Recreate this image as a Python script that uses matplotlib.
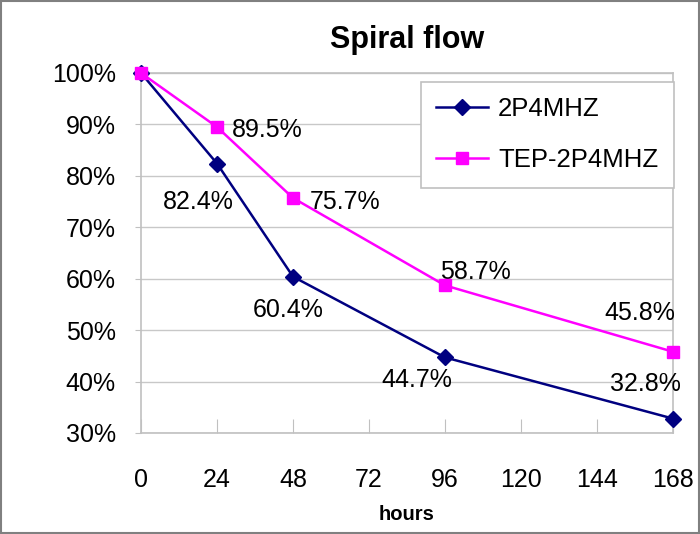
import matplotlib
matplotlib.use("Agg")
import matplotlib.pyplot as plt
from matplotlib.patches import Rectangle
from matplotlib.ticker import FuncFormatter

hours = [0, 24, 48, 96, 168]
series_a = [1.000, 0.824, 0.604, 0.447, 0.328]
series_b = [1.000, 0.895, 0.757, 0.587, 0.458]
name_a = "2P4MHZ"
name_b = "TEP-2P4MHZ"
labels_a = ["", "82.4%", "60.4%", "44.7%", "32.8%"]
labels_b = ["", "89.5%", "75.7%", "58.7%", "45.8%"]
xticks = [0, 24, 48, 72, 96, 120, 144, 168]
yticks = [0.3, 0.4, 0.5, 0.6, 0.7, 0.8, 0.9, 1.0]

FONT = ["Liberation Sans", "DejaVu Sans"]
FS = 18

fig = plt.figure(figsize=(7.0, 5.34), dpi=100)
ax = fig.add_axes([141/700, 1-433/534, 532/700, 360/534])

col_a = "#000080"
col_b = "#FF00FF"
ax.plot(hours, series_a, color=col_a, lw=1.8, marker="D", ms=8,
        mfc=col_a, mec=col_a, label=name_a, clip_on=False, zorder=3)
ax.plot(hours, series_b, color=col_b, lw=1.8, marker="s", ms=9,
        mfc=col_b, mec=col_b, label=name_b, clip_on=False, zorder=4)

ax.set_xlim(0, 168)
ax.set_ylim(0.3, 1.0)
ax.set_xticks(xticks)
ax.set_yticks(yticks)
ax.yaxis.set_major_formatter(FuncFormatter(lambda v, p: f"{v*100:.0f}%"))
ax.grid(axis="y", color="#c8c8c8", lw=1)
ax.set_axisbelow(True)
for s in ax.spines.values():
    s.set_color("#c0c0c0")
    s.set_linewidth(1.2)
ax.tick_params(axis="x", direction="in", length=10, color="#c0c0c0", pad=25)
ax.tick_params(axis="y", direction="out", length=4, color="#c0c0c0", pad=14)
for t in ax.get_xticklabels() + ax.get_yticklabels():
    t.set_fontfamily(FONT)
    t.set_fontsize(FS)

offs_a = [(0, 0), (-19, -38), (-5, -33), (-28, -23), (-28, 35)]
offs_b = [(0, 0), (50, -3), (52, -4), (30, 13), (-33, 39)]
for x, y, t, o in zip(hours, series_a, labels_a, offs_a):
    if t:
        ax.annotate(t, (x, y), xytext=o, textcoords="offset pixels",
                    ha="center", va="center", fontsize=FS, family=FONT,
                    annotation_clip=False)
for x, y, t, o in zip(hours, series_b, labels_b, offs_b):
    if t:
        ax.annotate(t, (x, y), xytext=o, textcoords="offset pixels",
                    ha="center", va="center", fontsize=FS, family=FONT,
                    annotation_clip=False)

leg = ax.legend(loc="upper left", bbox_to_anchor=((421-141)/532, (433-82)/360),
                prop={"family": FONT, "size": 18.5}, frameon=True, fancybox=False,
                framealpha=1, edgecolor="#c0c0c0", handlelength=2.0,
                borderpad=0.6, labelspacing=1.05, handletextpad=0.4,
                borderaxespad=0)
leg.get_frame().set_linewidth(1.2)

fig.text(0.5 * (141 + 673) / 700, 1 - 40/534, "Spiral flow", ha="center", va="center",
         fontsize=22, fontweight="bold", family=FONT)
fig.text(0.5 * (141 + 673) / 700, 1 - 514/534, "hours", ha="center", va="center",
         fontsize=14.5, fontweight="bold", family=FONT)

fig.patches.append(Rectangle((0.001, 0.001), 0.997, 0.997, transform=fig.transFigure,
                             fill=False, edgecolor="#808080", lw=1.5))

fig.savefig("out.png", dpi=100)
